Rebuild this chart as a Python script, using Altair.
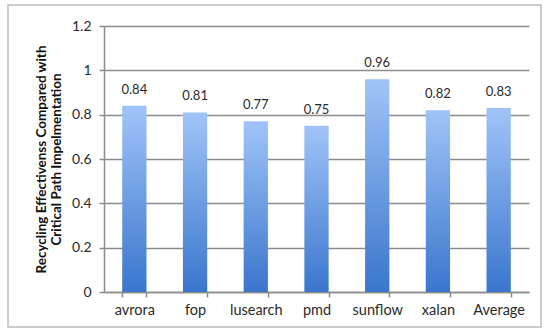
import altair as alt
import pandas as pd

categories = ["avrora", "fop", "lusearch", "pmd", "sunflow", "xalan", "Average"]
values = [0.84, 0.81, 0.77, 0.75, 0.96, 0.82, 0.83]
y_ticks = [0, 0.2, 0.4, 0.6, 0.8, 1.0, 1.2]

df = pd.DataFrame({"bench": categories, "value": values})
FONT = "Lato"

grad = alt.Gradient(
    gradient="linear",
    stops=[alt.GradientStop(color="#a0c4f8", offset=0),
           alt.GradientStop(color="#3a76cd", offset=1)],
    x1=0, x2=0, y1=0, y2=1,
)

x = alt.X("bench:N", sort=categories, title=None,
          scale=alt.Scale(paddingInner=0.6, paddingOuter=0.3),
          axis=alt.Axis(labelAngle=0, tickBand="extent", grid=False,
                        domainColor="#8c8c8c", domainWidth=1.5,
                        tickColor="#8c8c8c", tickWidth=1.5, tickSize=5,
                        labelPadding=6, labelFontSize=14.5, labelFont=FONT,
                        labelColor="#2a2a2a"))
y = alt.Y("value:Q", title=["Recycling Effectivenss Compared with", "Critical Path Impelmentation"],
          scale=alt.Scale(domain=[0, 1.2], nice=False),
          axis=alt.Axis(values=y_ticks, format="~g", grid=True,
                        gridColor="#8c8c8c", gridWidth=1.5,
                        domainColor="#8c8c8c", domainWidth=1.5,
                        tickColor="#8c8c8c", tickWidth=1.5, tickSize=5,
                        labelPadding=8, labelFontSize=14, labelFont=FONT,
                        labelColor="#2a2a2a",
                        titleFont=FONT, titleFontSize=13.5, titleFontWeight="bold",
                        titleColor="#111111", titlePadding=8, titleLineHeight=15))

bars = alt.Chart(df).mark_bar(color=grad).encode(x=x, y=y)
labels = alt.Chart(df).mark_text(dy=-16, fontSize=13, font=FONT, color="#2a2a2a").encode(
    x=alt.X("bench:N", sort=categories), y="value:Q", text=alt.Text("value:Q", format=".2f"))

border = alt.Chart(pd.DataFrame({"a": [0]})).mark_rect(
    fill=None, stroke="#bdbdbd", strokeWidth=1.5
).encode(x=alt.value(-96), x2=alt.value(437), y=alt.value(-21), y2=alt.value(301))

chart = alt.layer(border, bars, labels).properties(
    width=425, height=266,
    autosize=alt.AutoSizeParams(type="none"),
    padding={"left": 104, "top": 26, "right": 16, "bottom": 37},
    background="white",
).configure_view(stroke=None)

chart.save("out.html", embed_options={"renderer": "svg", "actions": False})
